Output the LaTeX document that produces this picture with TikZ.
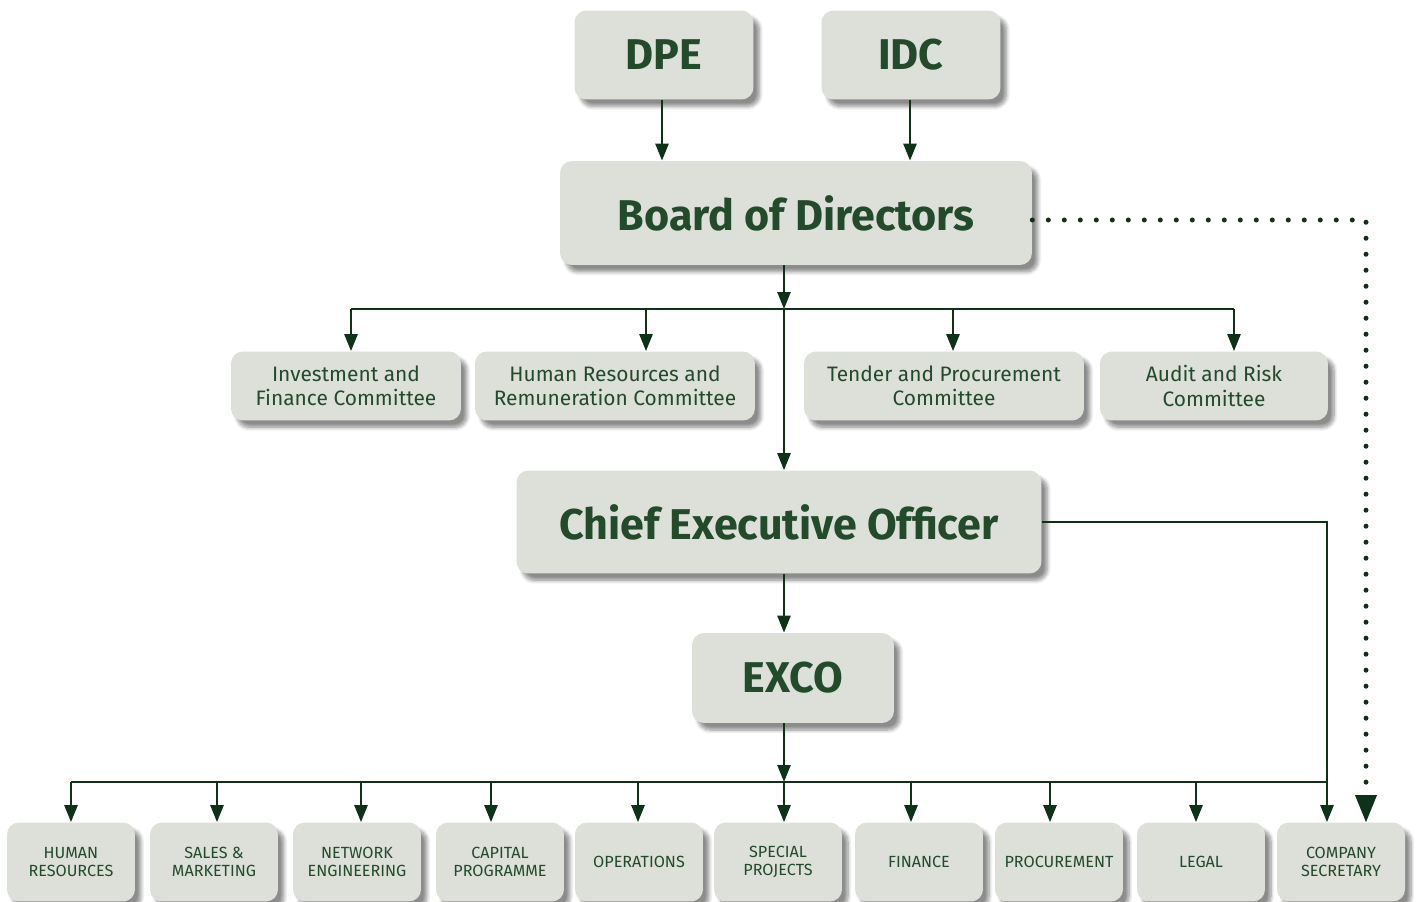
\documentclass[tikz,border=0pt]{standalone}
\usepackage{fontspec}
\setmainfont{Fira Sans}
\usetikzlibrary{arrows.meta,calc,shadows.blur}
\definecolor{boxfill}{HTML}{DCE0D9}
\definecolor{boxtext}{HTML}{234A2B}
\definecolor{linkgreen}{HTML}{0E3217}

\tikzset{
  box/.style={rounded corners=0.24cm, fill=boxfill, text=boxtext, align=center, inner sep=0pt,
    blur shadow={shadow xshift=0.12cm, shadow yshift=-0.14cm, shadow opacity=45, shadow blur steps=8}},
  bigbox/.style={box, font=\fontsize{24.5}{28}\selectfont\bfseries},
  committee/.style={box, minimum height=1.38cm, font=\fontsize{11.9}{13.7}\selectfont},
  dept/.style={box, minimum width=2.56cm, minimum height=1.58cm, font=\fontsize{9.2}{10.3}\selectfont},
  plain/.style={draw=linkgreen, line width=0.05cm},
  link/.style={plain, -{Triangle[width=0.26cm,length=0.34cm]}},
  dots/.style={draw=linkgreen, line width=0.1cm, line cap=round, dash pattern=on 0pt off 0.32cm,
    -{Triangle[width=0.44cm,length=0.54cm,line width=0pt]}}
}

\begin{document}
\begin{tikzpicture}[x=0.02cm,y=-0.02cm]
\useasboundingbox (0,0) rectangle (1424,902);

% top
\node[bigbox, minimum width=3.58cm, minimum height=1.78cm] (dpe) at (664,55) {DPE};
\node[bigbox, minimum width=3.58cm, minimum height=1.78cm] (idc) at (911,55) {IDC};
\node[bigbox, minimum width=9.44cm, minimum height=2.08cm] (board) at (796,213) {Board of Directors};

% committees
\node[committee, minimum width=4.6cm] (invest) at (346,386) {Investment and\\Finance Committee};
\node[committee, minimum width=5.6cm] (hrrem) at (615,386) {Human Resources and\\Remuneration Committee};
\node[committee, minimum width=5.6cm] (tender) at (944,386) {Tender and Procurement\\Committee};
\node[committee, minimum width=4.56cm] (audit) at (1214,386) {Audit and Risk\\Committee};

\node[bigbox, minimum width=10.5cm, minimum height=2.06cm] (ceo) at (779,522) {Chief Executive Officer};
\node[bigbox, minimum width=4.04cm, minimum height=1.8cm] (exco) at (793,678) {EXCO};

% departments
\node[dept] (hr) at (71,862) {HUMAN\\RESOURCES};
\node[dept] (sales) at (214,862) {SALES \&\\MARKETING};
\node[dept] (network) at (357,862) {NETWORK\\ENGINEERING};
\node[dept] (capital) at (500,862) {CAPITAL\\PROGRAMME};
\node[dept] (ops) at (639,862) {OPERATIONS};
\node[dept] (special) at (778,862) {SPECIAL\\PROJECTS};
\node[dept] (finance) at (919,862) {FINANCE};
\node[dept] (proc) at (1059,862) {PROCUREMENT};
\node[dept] (legal) at (1201,862) {LEGAL};
\node[dept] (sec) at (1341,862) {COMPANY\\SECRETARY};

% board level
\draw[link] (dpe.south -| 662,0) -- (board.north -| 662,0);
\draw[link] (idc.south -| 910,0) -- (board.north -| 910,0);

\coordinate (bus1) at (784,309);
\coordinate (c1) at (351,309);
\coordinate (c2) at (646,309);
\coordinate (c3) at (953,309);
\coordinate (c4) at (1234,309);
\draw[link] (board.south -| bus1) -- (bus1);
\draw[plain] (c1) -- (c4);
\draw[link] (c1) -- (c1 |- invest.north);
\draw[link] (c2) -- (c2 |- hrrem.north);
\draw[link] (c3) -- (c3 |- tender.north);
\draw[link] (c4) -- (c4 |- audit.north);
\draw[link] (bus1) -- (bus1 |- ceo.north);

% executive level
\draw[link] (ceo.south -| bus1) -- (exco.north -| bus1);

\coordinate (bus2) at (784,782);
\coordinate (d1) at (71,782);
\coordinate (d2) at (217,782);
\coordinate (d3) at (361,782);
\coordinate (d4) at (491,782);
\coordinate (d5) at (638,782);
\coordinate (d6) at (911,782);
\coordinate (d7) at (1050,782);
\coordinate (d8) at (1196,782);
\coordinate (d9) at (1327,782);
\draw[link] (exco.south -| bus2) -- (bus2);
\draw[plain] (d1) -- (d9);
\draw[link] (d1) -- (d1 |- hr.north);
\draw[link] (d2) -- (d2 |- sales.north);
\draw[link] (d3) -- (d3 |- network.north);
\draw[link] (d4) -- (d4 |- capital.north);
\draw[link] (d5) -- (d5 |- ops.north);
\draw[link] (bus2) -- (bus2 |- special.north);
\draw[link] (d6) -- (d6 |- finance.north);
\draw[link] (d7) -- (d7 |- proc.north);
\draw[link] (d8) -- (d8 |- legal.north);
\draw[link] (ceo.east) -| (d9 |- sec.north);

% dotted line to company secretary
\coordinate (dotc) at (1366,220);
\draw[dots] (board.east |- dotc) -- (dotc) -- (dotc |- sec.north);
\end{tikzpicture}
\end{document}
